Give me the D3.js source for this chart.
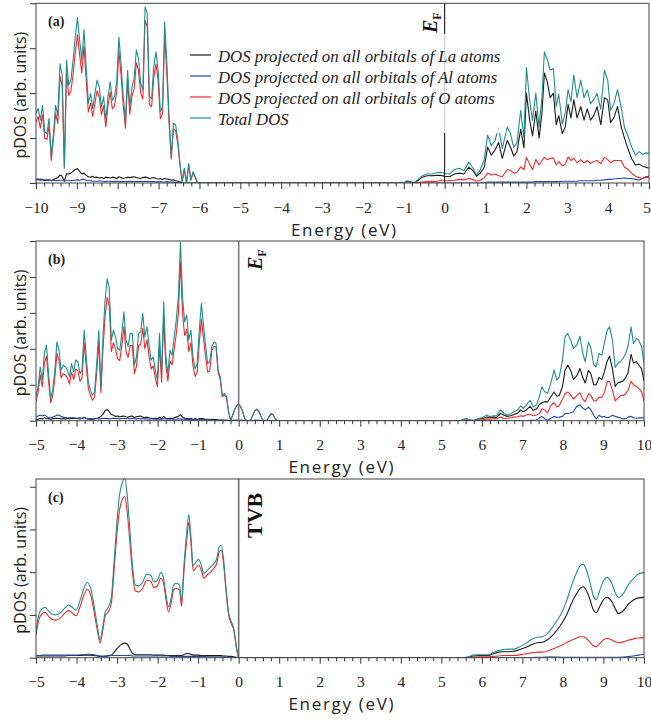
<!DOCTYPE html>
<html><head><meta charset="utf-8">
<script src="https://cdn.jsdelivr.net/npm/d3@7"></script>
<style>body{margin:0;background:#fff}</style>
</head><body>
<svg id="chart" width="651" height="720"></svg>
<script>
// ---------------- DATA ----------------
const seriesKeys = ["La", "Al", "O", "Total"];
const seriesLabels = [
  "DOS projected on all orbitals of La atoms",
  "DOS projected on all orbitals of Al atoms",
  "DOS projected on all orbitals of O atoms",
  "Total DOS"
];
const seriesColors = ["#1a1a1a", "#2548a8", "#f0282d", "#1f8f8c"];

// Panel (a): valence band, uniform grid from -10 to -6.05 eV
const A_VB_range = [-10, -6.05];
const A_VB_Total = [1.55,1.66,1.4,1.73,1.14,1.1,1.44,0.59,1.1,1.73,
1.5,2.66,2.4,0.36,2.73,2.18,2.3,2.73,3.25,3.68,
3.18,2.73,3.41,2.59,1.77,1.99,1.66,1.99,2.29,2.14,
1.7,1.92,1.4,1.92,2.25,1.84,1.92,2.25,3.25,2.66,
1.92,1.36,2.51,1.7,2.14,2.33,2.96,2.77,2.21,2.07,
3.92,3.77,1.92,1.88,2.59,2.92,2.51,1.59,1.7,3.59,
2.66,1.47,0.59,1.33,1.29,0.96,0.44,0.03,0.33,0,
0.44,0.07,0.25,0.14,0];
const A_VB_O = [1.35,1.48,1.22,1.52,1.0,0.97,1.28,0.5,0.98,1.55,
1.32,2.38,2.15,0.33,2.45,1.95,2.05,2.42,2.9,3.3,
2.85,2.45,3.05,2.3,1.58,1.78,1.48,1.77,2.05,1.92,
1.52,1.72,1.25,1.72,2.02,1.65,1.72,2.02,2.95,2.4,
1.72,1.22,2.27,1.53,1.93,2.1,2.68,2.5,2.0,1.87,
3.62,3.48,1.74,1.7,2.35,2.65,2.28,1.43,1.54,3.3,
2.42,1.33,0.53,1.2,1.17,0.87,0.4,0.03,0.3,0,
0.4,0.06,0.22,0.12,0];
const A_VB_La = [0.07,0.08,0.06,0.07,0.05,0.06,0.07,0.05,0.08,0.1,
0.12,0.18,0.15,0.04,0.21,0.2,0.22,0.26,0.3,0.32,
0.26,0.2,0.22,0.17,0.14,0.13,0.15,0.12,0.13,0.11,
0.12,0.1,0.13,0.12,0.11,0.13,0.12,0.1,0.14,0.12,
0.1,0.11,0.13,0.12,0.13,0.14,0.12,0.11,0.1,0.12,
0.13,0.12,0.1,0.11,0.12,0.1,0.09,0.1,0.08,0.1,
0.09,0.08,0.06,0.07,0.05,0.04,0.02,0,0,0,
0,0,0,0,0];
const A_VB_Al = [0.09,0.09,0.08,0.08,0.07,0.07,0.06,0.06,0.06,0.05,
0.05,0.06,0.06,0.05,0.05,0.05,0.05,0.06,0.06,0.07,
0.06,0.08,0.08,0.06,0.05,0.05,0.04,0.04,0.04,0.05,
0.04,0.04,0.03,0.04,0.04,0.03,0.03,0.04,0.03,0.03,
0.03,0.03,0.03,0.04,0.03,0.03,0.03,0.03,0.04,0.03,
0.04,0.03,0.03,0.03,0.03,0.02,0.03,0.03,0.02,0.02,
0.03,0.02,0.02,0.02,0.01,0.01,0.01,0,0,0,
0,0,0,0,0];

// Panel (a): conduction band
const A_CB_E = [-1.0,-0.92,-0.82,-0.76,-0.66,-0.55,-0.43,-0.31,-0.20,-0.10,0.0,
0.12,0.24,0.36,0.47,0.59,0.69,0.78,0.87,0.97,1.05,
1.14,1.23,1.32,1.41,1.53,1.61,1.69,1.77,1.86,1.94,
2.0,2.08,2.15,2.23,2.31,2.38,2.44,2.51,2.58,2.66,
2.73,2.79,2.88,2.95,3.02,3.09,3.16,3.24,3.33,3.41,
3.49,3.57,3.65,3.73,3.82,3.91,3.99,4.06,4.14,4.23,
4.32,4.40,4.49,4.57,4.67,4.76,4.84,4.92,5.0];
const A_CB_Total = [0,0.05,0.02,0,0.07,0.16,0.2,0.2,0.23,0.24,0.21,
0.2,0.3,0.33,0.27,0.46,0.34,0.18,0.29,0.53,1.07,
0.83,0.94,1.24,0.77,1.24,1.1,0.79,0.9,1.62,1.01,
2.57,1.84,1.39,2.0,1.25,1.9,2.92,2.75,2.51,2.55,
1.7,1.98,1.31,1.56,2.08,1.81,2.4,1.9,2.29,1.9,
2.07,1.76,1.86,1.99,1.64,2.51,2.29,1.62,1.76,2.08,
1.68,1.24,1.03,0.81,0.62,0.7,0.64,0.67,0.66];
const A_CB_La = [0,0.04,0.02,0,0.05,0.13,0.16,0.16,0.17,0.17,0.15,
0.14,0.2,0.22,0.2,0.35,0.28,0.15,0.22,0.35,0.8,
0.62,0.73,0.9,0.55,0.95,0.8,0.6,0.7,1.2,0.78,
2.0,1.4,1.05,1.6,1.0,1.55,2.45,2.25,1.9,2.0,
1.3,1.5,1.1,1.25,1.75,1.45,1.85,1.45,1.7,1.4,
1.65,1.4,1.5,1.7,1.3,1.9,1.85,1.35,1.45,1.7,
1.25,1.0,0.75,0.55,0.4,0.42,0.38,0.35,0.33];
const A_CB_O = [0,0.005,0,0,0.01,0.02,0.03,0.03,0.04,0.05,0.05,
0.05,0.06,0.08,0.07,0.1,0.08,0.04,0.06,0.12,0.22,
0.18,0.2,0.16,0.14,0.3,0.28,0.22,0.24,0.36,0.3,
0.57,0.42,0.3,0.52,0.4,0.5,0.57,0.52,0.55,0.56,
0.4,0.48,0.38,0.42,0.58,0.5,0.55,0.45,0.52,0.45,
0.5,0.44,0.48,0.5,0.43,0.57,0.52,0.45,0.5,0.5,
0.5,0.35,0.3,0.22,0.15,0.12,0.1,0.12,0.13];
const A_CB_Al = [0,0,0,0,0,0,0,0,0,0,0,
0,0,0,0,0,0,0,0,0.01,0.02,
0.02,0.02,0.02,0.02,0.02,0.02,0.02,0.02,0.02,0.02,
0.02,0.02,0.02,0.03,0.03,0.03,0.03,0.03,0.03,0.03,
0.03,0.03,0.04,0.04,0.04,0.04,0.04,0.04,0.05,0.05,
0.05,0.05,0.05,0.06,0.06,0.07,0.08,0.08,0.09,0.1,
0.1,0.11,0.1,0.1,0.08,0.06,0.1,0.14,0.15];

// Panel (b): valence band, uniform grid from -5 to -0.197 eV
const B_VB_range = [-5, -0.197];
const B_VB_Total = [0.67,0.94,1.5,1.13,1.87,2.1,1.31,0.62,0.85,1.41,
2.19,1.96,1.41,1.55,1.5,1.41,1.22,1.59,1.36,1.69,
1.64,1.31,1.41,2.52,1.78,1.08,0.85,0.71,0.81,1.59,
2.52,0.94,2.33,3.35,3.95,3.68,2.24,2.52,2.33,2.01,
1.96,2.43,3.03,2.24,2.06,2.43,2.43,1.55,1.78,2.43,
2.47,2.98,2.33,2.61,2.1,1.69,1.78,1.41,1.13,2.43,
1.27,3.31,1.82,1.31,1.96,1.82,2.33,2.8,3.44,4.97,
3.44,2.75,2.94,2.24,2.52,1.78,1.45,1.59,2.52,3.26,
2.66,2.1,1.59,1.64,2.06,2.19,2.15,1.41,1.22,0.71,
0.76,0.67,0.25,0];
const B_VB_O = [0.54,0.78,1.27,0.94,1.6,1.8,1.1,0.5,0.7,1.19,
1.88,1.67,1.19,1.31,1.27,1.19,1.02,1.35,1.15,1.44,
1.39,1.1,1.19,2.17,1.52,0.9,0.7,0.57,0.66,1.35,
2.17,0.78,2.0,2.9,3.43,3.19,1.92,2.17,2.0,1.72,
1.67,2.09,2.62,1.92,1.76,2.09,2.09,1.31,1.52,2.09,
2.12,2.57,2.0,2.25,1.8,1.44,1.52,1.19,0.94,2.09,
1.07,2.86,1.55,1.1,1.67,1.55,2.0,2.41,2.98,4.42,
2.98,2.37,2.54,1.92,2.17,1.52,1.23,1.35,2.17,2.82,
2.29,1.8,1.35,1.39,1.95,2.07,2.05,1.33,1.15,0.67,
0.72,0.64,0.24,0];
const B_VB_La = [0.03,0.04,0.06,0.05,0.08,0.06,0.05,0.04,0.05,0.06,
0.07,0.06,0.05,0.06,0.05,0.06,0.05,0.06,0.07,0.06,
0.06,0.05,0.06,0.1,0.06,0.04,0.05,0.04,0.05,0.06,
0.08,0.12,0.18,0.28,0.31,0.25,0.17,0.15,0.12,0.13,
0.11,0.12,0.13,0.11,0.1,0.12,0.13,0.09,0.11,0.12,
0.13,0.1,0.09,0.1,0.08,0.07,0.06,0.07,0.05,0.1,
0.06,0.12,0.07,0.06,0.07,0.06,0.08,0.1,0.12,0.17,
0.1,0.07,0.06,0.05,0.06,0.04,0.05,0.04,0.05,0.06,
0.05,0.04,0.04,0.03,0.04,0.03,0.03,0.02,0.02,0.02,
0.01,0.01,0.01,0];
const B_VB_Al = [0.1,0.13,0.16,0.13,0.16,0.12,0.08,0.08,0.1,0.12,
0.16,0.15,0.12,0.1,0.09,0.08,0.08,0.09,0.08,0.07,
0.07,0.08,0.06,0.08,0.06,0.05,0.06,0.05,0.07,0.06,
0.05,0.05,0.06,0.07,0.06,0.05,0.06,0.07,0.06,0.06,
0.05,0.06,0.07,0.06,0.06,0.05,0.06,0.06,0.05,0.06,
0.05,0.06,0.05,0.05,0.04,0.05,0.05,0.04,0.04,0.05,
0.04,0.05,0.05,0.04,0.04,0.05,0.04,0.04,0.05,0.05,
0.04,0.04,0.03,0.04,0.03,0.03,0.03,0.02,0.03,0.03,
0.03,0.02,0.02,0.02,0.02,0.02,0.01,0.01,0.01,0.01,
0.01,0.01,0,0];

// Panel (b): states around E_F, uniform grid from -0.197 to 0.94 eV
const B_EF_range = [-0.197, 0.94];
const B_EF_Total = [0,0.16,0.32,0.44,0.46,0.4,0.25,0.06,0,0,0.02,0.15,0.28,0.33,0.28,0.14,0.02,0,0,0.1,0.2,0.18,0.08,0];
const B_EF_O     = [0,0.15,0.3,0.42,0.44,0.38,0.24,0.05,0,0,0.02,0.14,0.27,0.31,0.27,0.13,0.02,0,0,0.09,0.19,0.17,0.07,0];
const B_EF_La    = [0,0.01,0.01,0.01,0.01,0.01,0.01,0,0,0,0,0,0.01,0.01,0.01,0,0,0,0,0,0,0,0,0];
const B_EF_Al    = [0,0,0.01,0.01,0.01,0.01,0,0,0,0,0,0,0,0,0,0,0,0,0,0,0,0,0,0];

// Panel (b): conduction band
const B_CB_E = [5.46,5.54,5.62,5.71,5.80,5.91,6.02,6.12,6.2,6.28,
6.36,6.46,6.55,6.63,6.71,6.79,6.88,6.96,7.02,7.10,
7.19,7.27,7.35,7.42,7.48,7.55,7.62,7.70,7.78,7.85,
7.91,7.99,8.05,8.12,8.19,8.26,8.34,8.42,8.49,8.55,
8.63,8.69,8.76,8.82,8.89,8.96,9.02,9.09,9.15,9.22,
9.29,9.35,9.42,9.48,9.55,9.61,9.68,9.74,9.81,9.87,
9.94,10.0];
const B_CB_Total = [0,0.04,0.06,0.02,0,0.06,0.09,0.16,0.11,0.14,
0.13,0.3,0.2,0.16,0.19,0.25,0.3,0.41,0.34,0.44,
0.57,0.39,0.44,0.67,0.94,0.81,0.76,1.04,1.41,1.13,
1.22,1.69,2.33,2.43,2.24,2.01,2.1,2.35,1.87,1.64,
2.19,2.01,1.55,1.5,1.87,1.82,2.15,2.52,2.61,2.24,
1.48,1.59,1.64,1.73,1.87,2.1,2.61,2.15,2.29,2.24,
2.06,1.59];
const B_CB_La = [0,0.01,0.02,0.01,0.01,0.04,0.06,0.1,0.08,0.1,
0.09,0.2,0.15,0.12,0.14,0.17,0.21,0.3,0.25,0.3,
0.4,0.29,0.33,0.45,0.5,0.53,0.52,0.66,0.8,0.68,
0.7,0.95,1.4,1.55,1.4,1.15,1.25,1.45,1.2,1.05,
1.4,1.3,1.0,1.0,1.2,1.15,1.35,1.65,1.8,1.45,
0.95,1.05,1.08,1.1,1.2,1.35,1.85,1.6,1.65,1.55,
1.45,1.1];
const B_CB_O = [0,0.01,0.02,0.01,0,0.02,0.03,0.05,0.04,0.05,
0.05,0.1,0.07,0.07,0.08,0.1,0.11,0.14,0.12,0.16,
0.18,0.14,0.16,0.2,0.33,0.3,0.22,0.42,0.5,0.38,
0.42,0.6,0.75,0.8,0.72,0.6,0.7,0.78,0.6,0.53,
0.75,0.7,0.55,0.55,0.65,0.65,0.78,1.08,1.1,0.85,
0.55,0.62,0.7,0.7,0.75,0.85,1.1,1.0,0.95,0.9,
0.8,0.55];
const B_CB_Al = [0,0,0,0,0,0,0,0,0,0,
0,0,0,0,0,0,0,0,0,0,
0.01,0.01,0.02,0.08,0.12,0.06,0.01,0.06,0.12,0.09,
0.1,0.12,0.2,0.2,0.22,0.25,0.4,0.44,0.35,0.3,
0.38,0.3,0.15,0.05,0.15,0.1,0.12,0.08,0.1,0.15,
0.12,0.1,0.08,0.05,0.05,0.1,0.12,0.08,0.07,0.08,
0.08,0.08];

// Panel (c): valence band
const C_VB_E = [-5.0,-4.92,-4.84,-4.77,-4.7,-4.61,-4.51,-4.41,-4.31,-4.2,
-4.12,-4.01,-3.91,-3.82,-3.73,-3.65,-3.57,-3.49,-3.42,-3.36,
-3.29,-3.21,-3.14,-3.08,-3.01,-2.94,-2.88,-2.81,-2.75,-2.68,
-2.62,-2.55,-2.47,-2.37,-2.27,-2.17,-2.09,-2.01,-1.92,-1.86,
-1.79,-1.73,-1.66,-1.6,-1.53,-1.46,-1.41,-1.35,-1.28,-1.23,
-1.18,-1.12,-1.05,-0.99,-0.92,-0.86,-0.77,-0.69,-0.61,-0.54,
-0.48,-0.43,-0.38,-0.31,-0.25,-0.18,-0.12,-0.05,0];
const C_VB_Total = [0.61,1.04,1.15,1.18,1.1,1.02,1.0,1.04,1.14,1.23,
1.19,1.11,1.35,1.62,1.76,1.62,1.23,0.76,0.41,0.68,
1.07,1.19,1.42,2.16,3.1,3.8,4.07,4.19,3.8,2.94,
2.16,1.7,1.68,1.76,1.95,1.93,1.77,1.8,1.99,1.89,
1.46,1.19,1.42,1.72,1.74,1.7,1.31,2.16,2.94,3.35,
2.86,2.16,2.24,2.3,2.16,1.97,2.05,2.12,2.2,2.32,
2.59,2.63,2.36,1.62,1.07,0.84,0.68,0.22,0];
const C_VB_O = [0.52,0.92,1.03,1.06,0.98,0.9,0.88,0.92,1.02,1.1,
1.06,0.98,1.2,1.46,1.6,1.46,1.09,0.66,0.34,0.6,
0.98,1.08,1.28,1.96,2.82,3.45,3.68,3.77,3.4,2.66,
1.99,1.56,1.54,1.62,1.81,1.79,1.64,1.67,1.86,1.76,
1.34,1.07,1.31,1.6,1.62,1.58,1.2,2.02,2.76,3.17,
2.71,2.03,2.11,2.17,2.04,1.86,1.94,2.01,2.09,2.21,
2.48,2.52,2.27,1.54,1.01,0.79,0.64,0.2,0];
const C_VB_La = [0.04,0.04,0.04,0.04,0.04,0.04,0.04,0.04,0.04,0.05,
0.05,0.05,0.05,0.06,0.06,0.06,0.05,0.04,0.03,0.03,
0.04,0.05,0.06,0.12,0.2,0.27,0.32,0.34,0.32,0.2,
0.1,0.07,0.07,0.07,0.07,0.07,0.06,0.06,0.06,0.06,
0.05,0.05,0.05,0.05,0.05,0.05,0.05,0.07,0.1,0.1,
0.08,0.06,0.06,0.06,0.05,0.05,0.05,0.05,0.05,0.05,
0.05,0.05,0.04,0.04,0.03,0.03,0.02,0.01,0];
const C_VB_Al = [0.05,0.05,0.06,0.06,0.06,0.06,0.06,0.06,0.06,0.06,
0.06,0.06,0.07,0.07,0.08,0.08,0.07,0.05,0.04,0.03,
0.03,0.04,0.05,0.05,0.05,0.05,0.05,0.05,0.05,0.05,
0.04,0.04,0.04,0.04,0.04,0.04,0.04,0.04,0.04,0.04,
0.04,0.04,0.03,0.03,0.03,0.03,0.03,0.03,0.03,0.03,
0.03,0.03,0.03,0.03,0.03,0.03,0.02,0.02,0.02,0.02,
0.02,0.02,0.02,0.02,0.01,0.01,0.01,0,0];

// Panel (c): conduction band
const C_CB_E = [5.54,5.66,5.79,5.91,6.04,6.16,6.28,6.41,6.53,6.65,
6.78,6.9,7.02,7.15,7.27,7.37,7.49,7.6,7.72,7.84,
7.97,8.09,8.21,8.34,8.42,8.5,8.58,8.67,8.75,8.82,
8.9,9.0,9.09,9.2,9.3,9.37,9.49,9.61,9.74,9.86,
10.0];
const C_CB_Total = [0,0.02,0.06,0.07,0.07,0.07,0.12,0.17,0.19,0.2,
0.2,0.24,0.3,0.38,0.45,0.48,0.49,0.55,0.68,0.85,
1.05,1.33,1.68,2.0,2.15,2.19,2.05,1.75,1.45,1.36,
1.55,1.8,1.88,1.75,1.5,1.41,1.5,1.7,1.85,1.96,
1.99];
const C_CB_La = [0,0.01,0.04,0.05,0.05,0.05,0.09,0.13,0.14,0.14,
0.15,0.18,0.22,0.27,0.32,0.35,0.36,0.41,0.5,0.63,
0.8,1.0,1.27,1.5,1.62,1.66,1.57,1.35,1.12,1.05,
1.18,1.36,1.41,1.32,1.13,1.03,1.1,1.25,1.35,1.4,
1.41];
const C_CB_O = [0,0,0.01,0.02,0.02,0.02,0.03,0.04,0.05,0.05,
0.05,0.06,0.08,0.1,0.12,0.13,0.13,0.15,0.19,0.24,
0.29,0.35,0.41,0.46,0.49,0.49,0.45,0.36,0.28,0.26,
0.32,0.42,0.45,0.42,0.37,0.35,0.37,0.41,0.44,0.46,
0.47];
const C_CB_Al = [0,0,0,0,0,0,0,0,0,0,
0,0,0,0,0.005,0.01,0.01,0.015,0.02,0.015,
0.01,0.01,0.01,0.01,0.01,0.01,0.01,0.01,0.01,0.01,
0.01,0.01,0.01,0.01,0.01,0.01,0.015,0.025,0.04,0.06,
0.08];

// ---------------- BUILD ----------------
function uniformGrid(range, n) {
  return d3.range(n).map(i => range[0] + (range[1] - range[0]) * i / (n - 1));
}
function seg(E, La, Al, O, Total) { return { E, La, Al, O, Total }; }

const panels = [
  { tag: "(a)", xDomain: [-10, 5], yMax: 4, left: 36, right: 649, top: 3.3, bottom: 183,
    curve: d3.curveLinear, efColor: "#000", efWidth: 1,
    segments: [
      seg(uniformGrid(A_VB_range, A_VB_Total.length), A_VB_La, A_VB_Al, A_VB_O, A_VB_Total),
      seg(A_CB_E, A_CB_La, A_CB_Al, A_CB_O, A_CB_Total)
    ] },
  { tag: "(b)", xDomain: [-5, 10], yMax: 5, left: 36, right: 644, top: 241, bottom: 420.7,
    curve: d3.curveLinear, efColor: "#7a7a7a", efWidth: 1.6,
    segments: [
      seg(uniformGrid(B_VB_range, B_VB_Total.length), B_VB_La, B_VB_Al, B_VB_O, B_VB_Total),
      seg(uniformGrid(B_EF_range, B_EF_Total.length), B_EF_La, B_EF_Al, B_EF_O, B_EF_Total),
      seg(B_CB_E, B_CB_La, B_CB_Al, B_CB_O, B_CB_Total)
    ] },
  { tag: "(c)", xDomain: [-5, 10], yMax: 4.18, left: 36, right: 644, top: 479, bottom: 657.7,
    curve: d3.curveMonotoneX, efColor: "#6e6e6e", efWidth: 1.6,
    segments: [
      seg(C_VB_E, C_VB_La, C_VB_Al, C_VB_O, C_VB_Total),
      seg(C_CB_E, C_CB_La, C_CB_Al, C_CB_O, C_CB_Total)
    ] }
];

const svg = d3.select("#chart");
const serif = "'Liberation Serif', 'Times New Roman', serif";
const sans = "'Open Sans', 'Noto Sans', sans-serif";
const W = 651;

panels.forEach((p, pi) => {
  const x = d3.scaleLinear().domain(p.xDomain).range([p.left, p.right]);
  const y = d3.scaleLinear().domain([0, p.yMax]).range([p.bottom, p.top]);
  const g = svg.append("g");

  const clipId = "clip" + pi;
  svg.append("clipPath").attr("id", clipId).append("rect")
    .attr("x", p.left).attr("y", p.top - 2).attr("width", p.right - p.left).attr("height", p.bottom - p.top + 2);

  const line = d3.line().x(d => x(d[0])).y(d => y(d[1])).curve(p.curve);
  seriesKeys.forEach((k, si) => {
    const pts = p.segments.flatMap(s => s.E.map((e, i) => [e, s[k][i]]));
    g.append("path").attr("clip-path", `url(#${clipId})`)
      .datum(pts).attr("d", line)
      .attr("fill", "none").attr("stroke", seriesColors[si])
      .attr("stroke-width", 1.1).attr("stroke-linejoin", "round");
  });

  // Fermi level / top of valence band
  g.append("line").attr("x1", x(0)).attr("x2", x(0)).attr("y1", p.top).attr("y2", p.bottom)
    .attr("stroke", p.efColor).attr("stroke-width", p.efWidth);

  // axes
  const majors = d3.range(p.xDomain[0], p.xDomain[1] + 1);
  const minors = d3.range(p.xDomain[0] * 5, p.xDomain[1] * 5 + 1).filter(v => v % 5 !== 0).map(v => v / 5);
  const axMinor = g.append("g").attr("transform", `translate(0,${p.bottom})`)
    .call(d3.axisBottom(x).tickValues(minors).tickSize(3.5).tickFormat(""));
  const axMajor = g.append("g").attr("transform", `translate(0,${p.bottom})`)
    .call(d3.axisBottom(x).tickValues(majors).tickSize(6).tickFormat(d3.format("d")));
  const axLeft = g.append("g").attr("transform", `translate(${p.left},0)`)
    .call(d3.axisLeft(y).tickValues(d3.range(0, Math.floor(p.yMax) + 1)).tickSize(6).tickFormat(""));
  [axMinor, axMajor, axLeft].forEach(a => {
    a.select(".domain").remove();
    a.selectAll("line").attr("stroke", "#333").attr("stroke-width", 1);
  });
  axMajor.selectAll("text").attr("y", 29.5).attr("dy", 0)
    .attr("font-family", serif).attr("font-size", 15.5).attr("fill", "#222")
    .each(function(d) {
      // keep the last label inside the page edge
      const px = x(d);
      if (px + 5 > W) d3.select(this).attr("text-anchor", "end").attr("x", W - px - 0.5);
    });

  // frame
  g.append("rect").attr("x", p.left).attr("y", p.top).attr("width", p.right - p.left).attr("height", p.bottom - p.top)
    .attr("fill", "none").attr("stroke", "#444").attr("stroke-width", 1);

  // axis titles
  g.append("text").attr("x", (p.left + p.right) / 2 + 1).attr("y", p.bottom + 52.5)
    .attr("text-anchor", "middle").attr("font-family", sans).attr("font-size", 17).attr("fill", "#222")
    .attr("textLength", 105).attr("lengthAdjust", "spacing")
    .text("Energy (eV)");
  g.append("text").attr("transform", `translate(26,${(p.top + p.bottom) / 2 + 2}) rotate(-90)`)
    .attr("text-anchor", "middle").attr("font-family", sans).attr("font-size", 16).attr("fill", "#222")
    .text("pDOS (arb. units)");

  // panel tag
  g.append("text").attr("x", 48).attr("y", p.top + 23).attr("font-family", serif)
    .attr("font-weight", "bold").attr("font-size", 14).attr("fill", "#222").text(p.tag);

  p.g = g; p.x = x; p.y = y;
});

// E_F labels
function efLabel(g, tx, ty) {
  const t = g.append("text").attr("transform", `translate(${tx},${ty}) rotate(-90)`)
    .attr("font-family", serif).attr("font-weight", "bold").attr("fill", "#111");
  t.append("tspan").attr("font-style", "italic").attr("font-size", 20).text("E");
  t.append("tspan").attr("font-size", 12).attr("dy", 4).text("F");
}
efLabel(panels[0].g, 437, 33);
efLabel(panels[1].g, 262, 270);
panels[2].g.append("text").attr("transform", "translate(262,538) rotate(-90)")
  .attr("font-family", serif).attr("font-weight", "bold").attr("font-size", 22).attr("fill", "#111")
  .text("TVB");

// Legend (panel a)
const lg = panels[0].g.append("g");
lg.append("rect").attr("x", 186).attr("y", 34).attr("width", 320).attr("height", 99)
  .attr("fill", "#fff").attr("fill-opacity", 0.8);
const legendRows = [55, 76, 97, 118];
seriesLabels.forEach((lab, i) => {
  lg.append("line").attr("x1", 190).attr("x2", 211).attr("y1", legendRows[i]).attr("y2", legendRows[i])
    .attr("stroke", seriesColors[i]).attr("stroke-width", 1.2);
  lg.append("text").attr("x", 218).attr("y", legendRows[i] + 6.5)
    .attr("font-family", serif).attr("font-style", "italic").attr("font-size", 16.8).attr("fill", "#222")
    .text(lab);
});
</script>
</body></html>
